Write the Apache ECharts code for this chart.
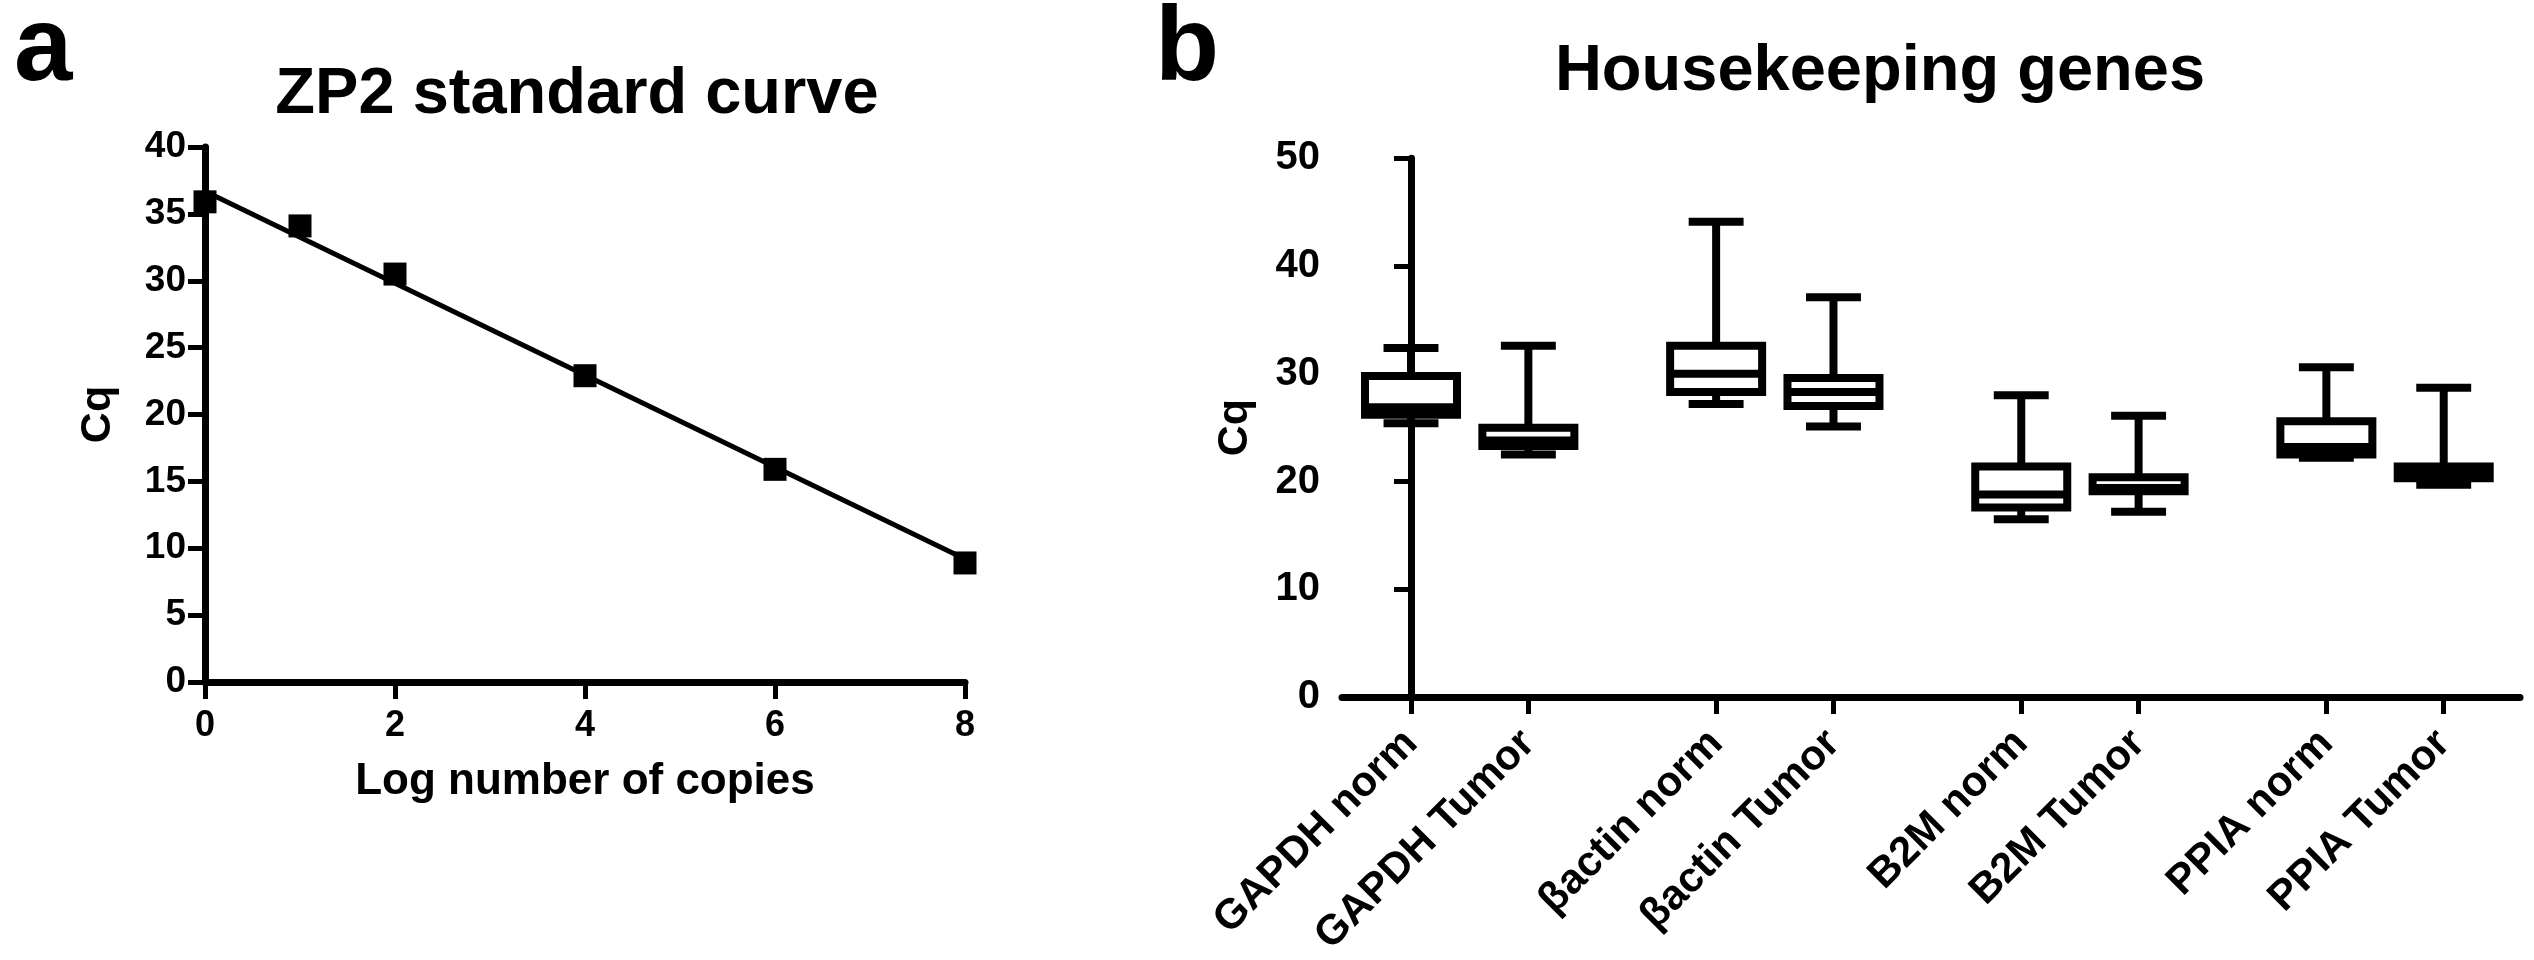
<!DOCTYPE html>
<html>
<head>
<meta charset="utf-8">
<script src="https://cdn.jsdelivr.net/npm/echarts@6/dist/echarts.min.js"></script>
<style>
html,body{margin:0;padding:0;background:#fff;}
#chart{width:2534px;height:960px;}
</style>
</head>
<body>
<div id="chart"></div>
<script>
// ---- Panel a: ZP2 standard curve ----
const logCopies = [0, 1, 2, 4, 6, 8];
const cqValues = [35.9, 34.1, 30.5, 22.9, 15.9, 8.9];
const fitX = [0, 8];
const fitY = [36.7, 9.2];

// ---- Panel b: Housekeeping genes (box & whiskers, min to max) ----
const categories = ['GAPDH norm', 'GAPDH Tumor', 'βactin norm', 'βactin Tumor',
                    'B2M norm', 'B2M Tumor', 'PPIA norm', 'PPIA Tumor'];
const minV = [25.4, 22.5, 27.2, 25.1, 16.5, 17.2, 22.2, 19.7];
const q1V  = [26.2, 23.3, 28.3, 27.0, 17.6, 19.1, 22.5, 20.3];
const medV = [26.9, 23.8, 30.0, 28.3, 18.8, 19.4, 23.2, 20.8];
const q3V  = [29.8, 25.0, 32.6, 29.6, 21.4, 20.4, 25.6, 21.4];
const maxV = [32.4, 32.6, 44.1, 37.1, 28.0, 26.1, 30.6, 28.7];

// category positions on the x axis: pairs with a wider gap between genes
const pos = categories.map((c, i) => i + 0.6 * Math.floor(i / 2));
const boxData = categories.map((c, i) => [pos[i], minV[i], q1V[i], medV[i], q3V[i], maxV[i]]);

const FONT = '"Liberation Sans", Arial, sans-serif';
const chart = echarts.init(document.getElementById('chart'), null, {renderer: 'canvas'});

const axisLineStyle = {color: '#000', width: 7};
const tickStyle = {color: '#000', width: 5};

const option = {
  backgroundColor: '#fff',
  animation: false,
  graphic: [
    {type: 'text', x: 14, y: 51, style: {text: 'a', font: 'bold 105px ' + FONT, fill: '#000', textAlign: 'left', textVerticalAlign: 'middle'}},
    {type: 'text', x: 1155, y: 51, style: {text: 'b', font: 'bold 105px ' + FONT, fill: '#000', textAlign: 'left', textVerticalAlign: 'middle'}},
    {type: 'text', x: 577, y: 95, style: {text: 'ZP2 standard curve', font: 'bold 65px ' + FONT, fill: '#000', textAlign: 'center', textVerticalAlign: 'middle'}},
    {type: 'text', x: 1880, y: 72, style: {text: 'Housekeeping genes', font: 'bold 65px ' + FONT, fill: '#000', textAlign: 'center', textVerticalAlign: 'middle'}}
  ],
  grid: [
    {left: 205, top: 147, width: 760, height: 535},
    {left: 1342, top: 158.3, width: 1178, height: 538.7}
  ],
  xAxis: [
    {
      gridIndex: 0, type: 'value', min: 0, max: 8, interval: 2,
      name: 'Log number of copies', nameLocation: 'middle', nameGap: 78,
      nameTextStyle: {fontFamily: FONT, fontWeight: 'bold', fontSize: 44, color: '#000'},
      axisLine: {show: true, lineStyle: axisLineStyle},
      axisTick: {show: true, length: 17, lineStyle: tickStyle},
      axisLabel: {fontFamily: FONT, fontWeight: 'bold', fontSize: 36, color: '#000', margin: 26},
      splitLine: {show: false}
    },
    {
      gridIndex: 1, type: 'value', min: -0.588, max: 9.45,
      axisLine: {show: true, lineStyle: axisLineStyle},
      axisTick: {show: true, length: 17, lineStyle: tickStyle, customValues: pos},
      axisLabel: {
        customValues: pos, rotate: 45, margin: 40,
        fontFamily: FONT, fontWeight: 'bold', fontSize: 42, color: '#000',
        formatter: function (v) {
          for (let i = 0; i < pos.length; i++) { if (Math.abs(pos[i] - v) < 1e-6) return categories[i]; }
          return '';
        }
      },
      splitLine: {show: false}
    }
  ],
  yAxis: [
    {
      gridIndex: 0, type: 'value', min: 0, max: 40, interval: 5,
      name: 'Cq', nameLocation: 'middle', nameGap: 85, nameRotate: 90,
      nameTextStyle: {fontFamily: FONT, fontWeight: 'bold', fontSize: 43, color: '#000'},
      axisLine: {show: true, lineStyle: axisLineStyle},
      axisTick: {show: true, length: 17, lineStyle: tickStyle},
      axisLabel: {fontFamily: FONT, fontWeight: 'bold', fontSize: 37, color: '#000', margin: 19},
      splitLine: {show: false}
    },
    {
      gridIndex: 1, type: 'value', min: 0, max: 50, interval: 10,
      name: 'Cq', nameLocation: 'middle', nameGap: 85, nameRotate: 90,
      nameTextStyle: {fontFamily: FONT, fontWeight: 'bold', fontSize: 43, color: '#000'},
      axisLine: {show: true, lineStyle: axisLineStyle},
      axisTick: {show: true, length: 17, lineStyle: tickStyle},
      axisLabel: {fontFamily: FONT, fontWeight: 'bold', fontSize: 40, color: '#000', margin: 22},
      splitLine: {show: false}
    }
  ],
  series: [
    {
      type: 'line', xAxisIndex: 0, yAxisIndex: 0,
      data: fitX.map((x, i) => [x, fitY[i]]),
      showSymbol: false, symbol: 'none',
      lineStyle: {color: '#000', width: 5}
    },
    {
      type: 'scatter', xAxisIndex: 0, yAxisIndex: 0,
      data: logCopies.map((x, i) => [x, cqValues[i]]),
      symbol: 'rect', symbolSize: 23,
      itemStyle: {color: '#000', opacity: 1}
    },
    {
      type: 'custom', xAxisIndex: 1, yAxisIndex: 1,
      data: boxData,
      encode: {x: 0, y: [1, 2, 3, 4, 5]},
      renderItem: function (params, api) {
        const x = api.value(0);
        const unit = api.size([1, 0])[0];
        const cx = api.coord([x, api.value(3)])[0];
        const yMin = api.coord([x, api.value(1)])[1];
        const yQ1 = api.coord([x, api.value(2)])[1];
        const yMed = api.coord([x, api.value(3)])[1];
        const yQ3 = api.coord([x, api.value(4)])[1];
        const yMax = api.coord([x, api.value(5)])[1];
        const half = unit * 0.392;
        const capHalf = unit * 0.234;
        const st = {stroke: '#000', lineWidth: 8, fill: 'none'};
        return {
          type: 'group',
          children: [
            {type: 'line', shape: {x1: cx, y1: yMax, x2: cx, y2: yQ3}, style: st},
            {type: 'line', shape: {x1: cx, y1: yQ1, x2: cx, y2: yMin}, style: st},
            {type: 'line', shape: {x1: cx - capHalf, y1: yMax, x2: cx + capHalf, y2: yMax}, style: st},
            {type: 'line', shape: {x1: cx - capHalf, y1: yMin, x2: cx + capHalf, y2: yMin}, style: st},
            {type: 'rect', shape: {x: cx - half, y: yQ3, width: 2 * half, height: yQ1 - yQ3}, style: {stroke: '#000', lineWidth: 8, fill: '#fff'}},
            {type: 'line', shape: {x1: cx - half, y1: yMed, x2: cx + half, y2: yMed}, style: st}
          ]
        };
      }
    }
  ]
};
chart.setOption(option);
</script>
</body>
</html>
